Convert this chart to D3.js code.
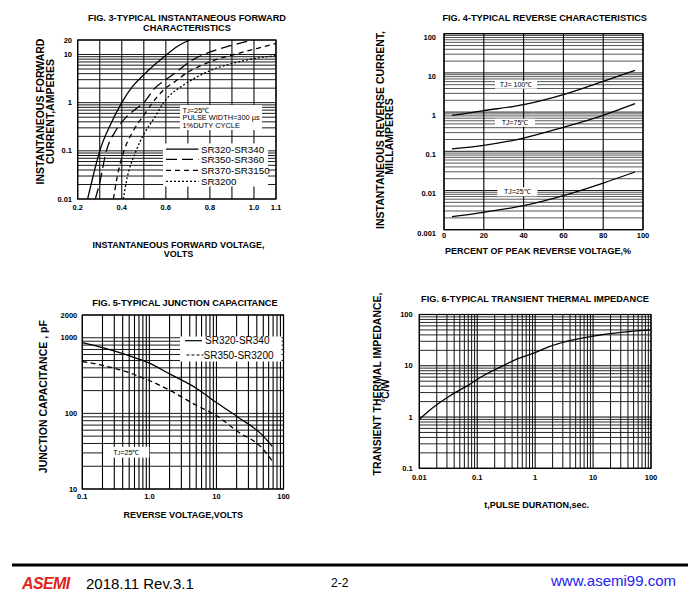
<!DOCTYPE html>
<html>
<head>
<meta charset="utf-8">
<script src="https://cdn.jsdelivr.net/npm/d3@7"></script>
<style>
  html, body { margin: 0; padding: 0; background: #fff; }
  svg { display: block; font-family: "Liberation Sans", Arial, Helvetica, sans-serif; }
</style>
</head>
<body>
<svg id="chart" width="700" height="615"></svg>
<script>
"use strict";

/* ── Data ─────────────────────────────────────────────────── */
// Fig. 3  forward voltage (V) vs forward current (A)
const fig3V_SR320 = [0.245, 0.27, 0.30, 0.35, 0.40, 0.45, 0.50, 0.55, 0.60, 0.65, 0.71];
const fig3I_SR320 = [0.01, 0.03, 0.1, 0.36, 1.0, 2.2, 3.8, 6.2, 9.6, 14.5, 20];
const fig3V_SR350 = [0.28, 0.30, 0.33, 0.37, 0.42, 0.46, 0.50, 0.55, 0.60, 0.65, 0.71, 0.79, 0.88, 0.95, 0.99];
const fig3I_SR350 = [0.01, 0.022, 0.1, 0.25, 0.5, 0.72, 1.0, 2.0, 3.0, 4.4, 7.2, 10.8, 14.7, 17.8, 20];
const fig3V_SR370 = [0.362, 0.38, 0.41, 0.45, 0.50, 0.54, 0.59, 0.64, 0.70, 0.76, 0.83, 0.91, 0.98, 1.05, 1.10];
const fig3I_SR370 = [0.01, 0.03, 0.1, 0.25, 0.55, 1.0, 1.85, 2.7, 4.3, 5.9, 7.9, 10, 12.2, 14.7, 17];
const fig3V_SR3200 = [0.407, 0.42, 0.465, 0.50, 0.55, 0.59, 0.61, 0.67, 0.74, 0.82, 0.89, 0.98, 1.10];
const fig3I_SR3200 = [0.01, 0.022, 0.1, 0.22, 0.5, 1.0, 1.3, 2.16, 3.4, 5.0, 6.3, 7.9, 9.5];
const fig3Series = ["SR320-SR340", "SR350-SR360", "SR370-SR3150", "SR3200"];
const fig3XTicks = [0.2, 0.4, 0.6, 0.8, 1.0, 1.1];
const fig3XLabels = ["0.2", "0.4", "0.6", "0.8", "1.0", "1.1"];
const fig3YTicks = [0.01, 0.1, 1, 10, 20];
const fig3YLabels = ["0.01", "0.1", "1", "10", "20"];

// Fig. 4  percent of peak reverse voltage vs reverse current (mA)
const fig4Percent = [4, 20, 40, 60, 80, 96];
const fig4Tj100 = [0.82, 1.09, 1.55, 2.8, 6.1, 11.6];
const fig4Tj75 = [0.115, 0.142, 0.218, 0.41, 0.83, 1.64];
const fig4Tj25 = [0.00215, 0.00278, 0.0041, 0.0074, 0.0155, 0.0297];
const fig4Series = ["TJ= 100℃", "TJ=75℃", "TJ=25℃"];
const fig4XTicks = [0, 20, 40, 60, 80, 100];
const fig4YTicks = [0.001, 0.01, 0.1, 1, 10, 100];
const fig4YLabels = ["0.001", "0.01", "0.1", "1", "10", "100"];

// Fig. 5  reverse voltage (V) vs junction capacitance (pF)
const fig5Voltage = [0.1, 0.2, 0.5, 1.0, 2.1, 5, 10, 21, 48, 68];
const fig5Cap_SR320 = [861, 741, 580, 462, 325, 215, 139, 89, 52, 36.6];
const fig5Cap_SR350 = [486, 431, 345, 272, 198, 128, 93.4, 57, 34.8, 23.5];
const fig5Series = ["SR320-SR340", "SR350-SR3200"];
const fig5XTicks = [0.1, 1, 10, 100];
const fig5XLabels = ["0.1", "1.0", "10", "100"];
const fig5YTicks = [10, 100, 1000, 2000];
const fig5YLabels = ["10", "100", "1000", "2000"];

// Fig. 6  pulse duration (s) vs transient thermal impedance (°C/W)
const fig6Duration = [0.01, 0.0175, 0.034, 0.066, 0.127, 0.25, 0.48, 1.0, 1.8, 3.5, 10, 26, 100];
const fig6Impedance = [0.9, 1.55, 2.6, 4.0, 6.4, 9.4, 13.5, 18, 24, 30, 38, 44, 50];
const fig6XTicks = [0.01, 0.1, 1, 10, 100];
const fig6XLabels = ["0.01", "0.1", "1", "10", "100"];
const fig6YTicks = [0.1, 1, 10, 100];
const fig6YLabels = ["0.1", "1", "10", "100"];

/* ── Helpers ─────────────────────────────────────────────── */
const svg = d3.select("#chart");

function label(sel, x, y, str, o = {}) {
  const t = sel.append("text")
    .attr("x", x).attr("y", y).attr("dy", "0.35em")
    .attr("font-size", o.size || 9)
    .attr("font-weight", o.weight || "bold")
    .attr("text-anchor", o.anchor || "middle")
    .attr("fill", "#000")
    .text(str);
  if (o.rotate) t.attr("transform", `rotate(-90,${x},${y})`);
  return t;
}

const isDecade = (d) => Math.abs(Math.log10(d) - Math.round(Math.log10(d))) < 1e-6;

function grid(g, x, y, xVals, yVals, st) {
  const [xl, xr] = x.range();
  const [yb, yt] = y.range();
  g.append("g").selectAll("line").data(yVals).join("line")
    .attr("x1", xl).attr("x2", xr)
    .attr("y1", (d) => y(d)).attr("y2", (d) => y(d))
    .attr("stroke", (d) => (st.yMajor && st.yMajor(d) ? "#000" : st.hColor))
    .attr("stroke-width", st.hWidth);
  g.append("g").selectAll("line").data(xVals).join("line")
    .attr("x1", (d) => x(d)).attr("x2", (d) => x(d))
    .attr("y1", yt).attr("y2", yb)
    .attr("stroke", (d) => (st.xMajor && st.xMajor(d) ? "#000" : st.vColor))
    .attr("stroke-width", st.vWidth);
}

function frame(g, x, y) {
  const [xl, xr] = x.range();
  const [yb, yt] = y.range();
  g.append("rect").attr("x", xl).attr("y", yt)
    .attr("width", xr - xl).attr("height", yb - yt)
    .attr("fill", "none").attr("stroke", "#000").attr("stroke-width", 1.2);
}

function whiteBox(g, x, y, w, h) {
  g.append("rect").attr("x", x).attr("y", y).attr("width", w).attr("height", h).attr("fill", "#fff");
}

function curve(g, x, y, xs, ys, dash, width) {
  const line = d3.line().x((d) => x(d[0])).y((d) => y(d[1])).curve(d3.curveMonotoneX);
  g.append("path").datum(d3.zip(xs, ys))
    .attr("d", line)
    .attr("fill", "none").attr("stroke", "#000")
    .attr("stroke-width", width || 1.3)
    .attr("stroke-dasharray", dash || null);
}

function ticksX(g, x, vals, texts, yPos) {
  g.append("g").selectAll("text").data(vals).join("text")
    .attr("x", (d) => x(d)).attr("y", yPos).attr("dy", "0.35em")
    .attr("text-anchor", "middle").attr("font-size", 7.5).attr("font-weight", "bold")
    .text((d, i) => texts[i]);
}

function ticksY(g, y, vals, texts, xPos, shift) {
  g.append("g").selectAll("text").data(vals).join("text")
    .attr("x", xPos).attr("y", (d) => y(d) + (shift || 0)).attr("dy", "0.35em")
    .attr("text-anchor", "end").attr("font-size", 7.5).attr("font-weight", "bold")
    .text((d, i) => texts[i]);
}

/* ── FIG. 3 ──────────────────────────────────────────────── */
(function () {
  const g = svg.append("g");
  const x = d3.scaleLinear().domain([0.2, 1.1]).range([77.7, 276]);
  const y = d3.scaleLog().domain([0.01, 20]).range([199, 40]);

  grid(g, x, y, x.ticks(9), y.ticks(), { hColor: "#1a1a1a", hWidth: 1, vColor: "#111", vWidth: 1.1 });

  // annotation + legend boxes
  whiteBox(g, 180, 105, 82, 25);
  whiteBox(g, 163, 143.5, 105, 43);
  frame(g, x, y);

  const dashes = [null, "11,5", "5,4", "2,2"];
  curve(g, x, y, fig3V_SR320, fig3I_SR320, dashes[0]);
  curve(g, x, y, fig3V_SR350, fig3I_SR350, dashes[1]);
  curve(g, x, y, fig3V_SR370, fig3I_SR370, dashes[2]);
  curve(g, x, y, fig3V_SR3200, fig3I_SR3200, dashes[3]);

  const tj = g.append("text").attr("x", 182.5).attr("y", 110).attr("dy", "0.35em")
    .attr("font-size", 7.4);
  tj.append("tspan").text("T");
  tj.append("tspan").attr("font-size", 5.5).text("J");
  tj.append("tspan").text("=25℃");
  label(g, 182.5, 117.5, "PULSE WIDTH=300 µs", { size: 7.4, weight: "normal", anchor: "start" });
  label(g, 182.5, 125.3, "1%DUTY CYCLE", { size: 7.4, weight: "normal", anchor: "start" });

  const rows = [149.2, 159.4, 170.4, 181.4];
  fig3Series.forEach((name, i) => {
    g.append("line").attr("x1", 166).attr("x2", 198.5)
      .attr("y1", rows[i]).attr("y2", rows[i])
      .attr("stroke", "#000").attr("stroke-width", 1.2)
      .attr("stroke-dasharray", dashes[i]);
    label(g, 201, rows[i], name, { size: 9.8, weight: "normal", anchor: "start" });
  });

  ticksX(g, x, fig3XTicks, fig3XLabels, 207);
  ticksY(g, y, fig3YTicks, fig3YLabels, 72, 0);

  label(g, 187, 17.3, "FIG. 3-TYPICAL INSTANTANEOUS FORWARD", { size: 9.2 });
  label(g, 187, 27.3, "CHARACTERISTICS", { size: 9.2 });
  label(g, 40.7, 111.5, "INSTANTANEOUS FORWARD", { size: 10.5, rotate: true });
  label(g, 50, 111.5, "CURRENT,AMPERES", { size: 10.5, rotate: true });
  label(g, 178.5, 245, "INSTANTANEOUS FORWARD VOLTAGE,", { size: 9 });
  label(g, 178.5, 254.3, "VOLTS", { size: 9 });
})();

/* ── FIG. 4 ──────────────────────────────────────────────── */
(function () {
  const g = svg.append("g");
  const x = d3.scaleLinear().domain([0, 100]).range([444, 643]);
  const y = d3.scaleLog().domain([0.001, 100]).range([229.7, 33.7]);

  grid(g, x, y, x.ticks(5), y.ticks(), {
    hColor: "#444", hWidth: 0.9, yMajor: isDecade, vColor: "#000", vWidth: 1.1,
  });

  const boxes = [[495, 80.7, 42, 8], [495, 118.7, 40, 8], [497.3, 187.3, 40, 9]];
  boxes.forEach((b) => whiteBox(g, b[0], b[1], b[2], b[3]));
  frame(g, x, y);

  curve(g, x, y, fig4Percent, fig4Tj100);
  curve(g, x, y, fig4Percent, fig4Tj75);
  curve(g, x, y, fig4Percent, fig4Tj25);

  fig4Series.forEach((name, i) => {
    const b = boxes[i];
    label(g, b[0] + b[2] / 2, b[1] + b[3] / 2, name, { size: 7, weight: "normal" });
  });

  ticksX(g, x, fig4XTicks, fig4XTicks.map(String), 235.8);
  ticksY(g, y, fig4YTicks, fig4YLabels, 436, 3.2);

  label(g, 544.7, 17.3, "FIG. 4-TYPICAL REVERSE CHARACTERISTICS", { size: 9.2 });
  label(g, 380, 130, "INSTANTANEOUS REVERSE CURRENT,", { size: 10.5, rotate: true });
  label(g, 389.3, 136.5, "MILLAMPERES", { size: 10.5, rotate: true });
  label(g, 538, 250.7, "PERCENT OF PEAK REVERSE VOLTAGE,%", { size: 9 });
})();

/* ── FIG. 5 ──────────────────────────────────────────────── */
(function () {
  const g = svg.append("g");
  const x = d3.scaleLog().domain([0.1, 100]).range([82.3, 283.5]);
  const y = d3.scaleLog().domain([10, 2000]).range([489, 315]);

  grid(g, x, y, x.ticks(), y.ticks(), {
    hColor: "#1a1a1a", hWidth: 1, vColor: "#000", vWidth: 1.1,
  });

  whiteBox(g, 180, 336.5, 101.5, 25);
  whiteBox(g, 103.3, 446.7, 46, 11);
  frame(g, x, y);

  curve(g, x, y, fig5Voltage, fig5Cap_SR320);
  curve(g, x, y, fig5Voltage, fig5Cap_SR350, "5,3.5");

  g.append("line").attr("x1", 185).attr("x2", 202).attr("y1", 340.7).attr("y2", 340.7)
    .attr("stroke", "#000").attr("stroke-width", 1.2);
  label(g, 205, 340.7, fig5Series[0], { size: 10, weight: "normal", anchor: "start" });
  g.append("line").attr("x1", 186.5).attr("x2", 203.5).attr("y1", 355).attr("y2", 355)
    .attr("stroke", "#000").attr("stroke-width", 1.2).attr("stroke-dasharray", "3,2");
  label(g, 203.5, 355, fig5Series[1], { size: 10, weight: "normal", anchor: "start" });

  const tj = g.append("text").attr("x", 126.3).attr("y", 452.2).attr("dy", "0.35em")
    .attr("font-size", 7.2).attr("text-anchor", "middle");
  tj.append("tspan").text("T");
  tj.append("tspan").attr("font-size", 5.4).text("J");
  tj.append("tspan").text("=25℃");

  ticksX(g, x, fig5XTicks, fig5XLabels, 496.7);
  ticksY(g, y, fig5YTicks, fig5YLabels, 77.3, 0);

  label(g, 185, 302.3, "FIG. 5-TYPICAL JUNCTION CAPACITANCE", { size: 9.2 });
  label(g, 43.3, 396.7, "JUNCTION CAPACITANCE , pF", { size: 10.5, rotate: true });
  label(g, 183.3, 515, "REVERSE VOLTAGE,VOLTS", { size: 9 });
})();

/* ── FIG. 6 ──────────────────────────────────────────────── */
(function () {
  const g = svg.append("g");
  const x = d3.scaleLog().domain([0.01, 100]).range([419.3, 651]);
  const y = d3.scaleLog().domain([0.1, 100]).range([468.3, 314.5]);

  grid(g, x, y, x.ticks(), y.ticks(), {
    hColor: "#2a2a2a", hWidth: 1, yMajor: isDecade, vColor: "#1a1a1a", vWidth: 1.05, xMajor: isDecade,
  });
  frame(g, x, y);

  curve(g, x, y, fig6Duration, fig6Impedance);

  ticksX(g, x, fig6XTicks, fig6XLabels, 477.7);
  ticksY(g, y, fig6YTicks, fig6YLabels, 412.7, 0);

  label(g, 535, 299, "FIG. 6-TYPICAL TRANSIENT THERMAL IMPEDANCE", { size: 9.2 });
  label(g, 377, 384, "TRANSIENT THERMAL IMPEDANCE,", { size: 10.5, rotate: true });
  label(g, 385.7, 391, "°C/W", { size: 10, rotate: true });
  label(g, 536.7, 505, "t,PULSE DURATION,sec.", { size: 9 });
})();

/* ── Footer ──────────────────────────────────────────────── */
(function () {
  const g = svg.append("g");
  g.append("line").attr("x1", 12).attr("x2", 688).attr("y1", 565).attr("y2", 565)
    .attr("stroke", "#000").attr("stroke-width", 3);
  g.append("text").attr("x", 22).attr("y", 588.5)
    .attr("font-size", 16).attr("font-weight", "bold").attr("font-style", "italic")
    .attr("letter-spacing", -0.6).attr("fill", "#e02419").text("ASEMI");
  g.append("text").attr("x", 86).attr("y", 589).attr("font-size", 15).text("2018.11 Rev.3.1");
  g.append("text").attr("x", 331).attr("y", 586.5).attr("font-size", 12).text("2-2");
  g.append("text").attr("x", 551).attr("y", 586).attr("font-size", 15)
    .attr("fill", "#2222ee").text("www.asemi99.com");
})();
</script>
</body>
</html>
